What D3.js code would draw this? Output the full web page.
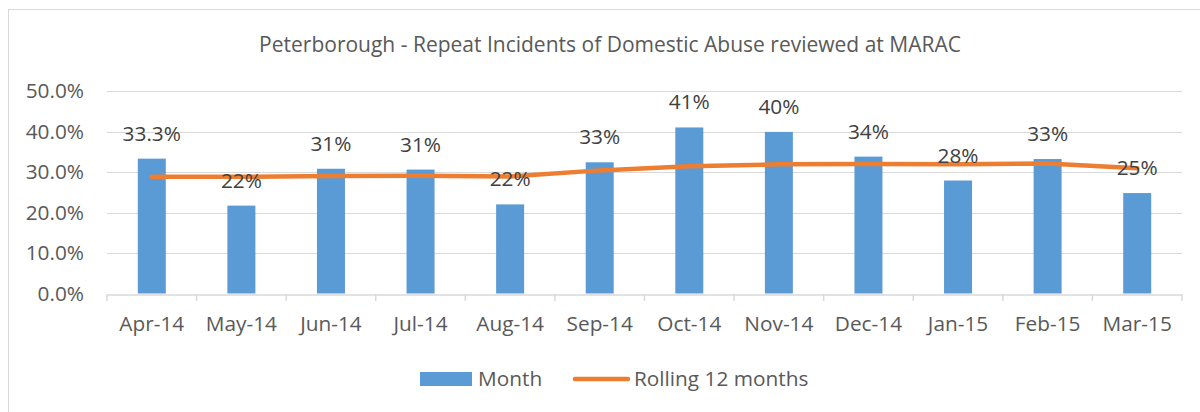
<!DOCTYPE html>
<html>
<head>
<meta charset="utf-8">
<script src="https://cdn.jsdelivr.net/npm/d3@7"></script>
<style>
	body { margin: 0; background: #fff; }
	svg { display: block; font-family: "Open Sans", sans-serif; }
</style>
</head>
<body>
<svg id="chart" width="1200" height="412"></svg>
<script>
const months = ["Apr-14", "May-14", "Jun-14", "Jul-14", "Aug-14", "Sep-14", "Oct-14", "Nov-14", "Dec-14", "Jan-15", "Feb-15", "Mar-15"];
const monthValues = [33.3, 21.7, 30.8, 30.6, 22.0, 32.4, 41.0, 39.9, 33.8, 27.9, 33.2, 24.8];
const monthLabels = ["33.3%", "22%", "31%", "31%", "22%", "33%", "41%", "40%", "34%", "28%", "33%", "25%"];
const rolling = [28.8, 28.8, 29.0, 29.1, 28.9, 30.4, 31.4, 31.9, 32.0, 31.9, 32.1, 30.9];
const yTicks = [0, 10, 20, 30, 40, 50];
const title = "Peterborough - Repeat Incidents of Domestic Abuse reviewed at MARAC";

const colors = {
	bar: "#5B9BD5",
	line: "#ED7D31",
	grid: "#D9D9D9",
	text: "#595959",
	label: "#404040",
};

const fontSize = 20.8;

const svg = d3.select("#chart");
const plot = { left: 107, right: 1182, top: 91, bottom: 293.5 };

// chart frame (only left and top edges visible)
svg.append("rect")
	.attr("x", 8.5)
	.attr("y", 9.5)
	.attr("width", 1220)
	.attr("height", 420)
	.attr("fill", "none")
	.attr("stroke", colors.grid);

svg.append("text")
	.attr("x", 610)
	.attr("y", 52)
	.attr("text-anchor", "middle")
	.attr("font-size", 21)
	.attr("fill", colors.text)
	.text(title);

const x = d3.scaleBand().domain(months).range([plot.left, plot.right]);
const y = d3.scaleLinear().domain([0, 50]).range([plot.bottom, plot.top]);
const barWidth = 28;

// gridlines
svg.append("g")
	.selectAll("line")
	.data(yTicks.slice(1))
	.join("line")
	.attr("x1", plot.left)
	.attr("x2", plot.right)
	.attr("y1", (d) => Math.round(y(d)) + 0.5)
	.attr("y2", (d) => Math.round(y(d)) + 0.5)
	.attr("stroke", colors.grid)
	.attr("stroke-width", 1.2);

// y axis
const yAxis = svg.append("g")
	.attr("transform", `translate(${plot.left},0)`)
	.call(d3.axisLeft(y).tickValues(yTicks).tickSize(0).tickPadding(23).tickFormat((d) => d.toFixed(1) + "%"));
yAxis.select(".domain").remove();
yAxis.selectAll("text")
	.attr("font-family", "Open Sans")
	.attr("font-size", fontSize)
	.attr("fill", colors.text);

// bars
svg.append("g")
	.selectAll("rect")
	.data(monthValues)
	.join("rect")
	.attr("x", (d, i) => x(months[i]) + x.bandwidth() / 2 - barWidth / 2)
	.attr("y", (d) => y(d))
	.attr("width", barWidth)
	.attr("height", (d) => y(0) - y(d))
	.attr("fill", colors.bar);

// x axis
const xAxis = svg.append("g")
	.attr("transform", `translate(0,${Math.round(plot.bottom) + 0.5})`)
	.call(d3.axisBottom(x).tickSize(0).tickPadding(22));
xAxis.select(".domain").attr("stroke", colors.grid).attr("stroke-width", 1.5);
xAxis.selectAll("text")
	.attr("font-family", "Open Sans")
	.attr("font-size", fontSize)
	.attr("fill", colors.text);

// category separators
svg.append("g")
	.selectAll("line")
	.data(months.concat(["end"]))
	.join("line")
	.attr("x1", (d, i) => (i < months.length ? x(d) : plot.right))
	.attr("x2", (d, i) => (i < months.length ? x(d) : plot.right))
	.attr("y1", Math.round(plot.bottom))
	.attr("y2", Math.round(plot.bottom) + 7)
	.attr("stroke", colors.grid)
	.attr("stroke-width", 1.5);

// rolling line
const line = d3.line()
	.x((d, i) => x(months[i]) + x.bandwidth() / 2)
	.y((d) => y(d));

svg.append("path")
	.datum(rolling)
	.attr("d", line)
	.attr("fill", "none")
	.attr("stroke", colors.line)
	.attr("stroke-width", 4.5)
	.attr("stroke-linejoin", "round")
	.attr("stroke-linecap", "round");

// data labels
svg.append("g")
	.selectAll("text")
	.data(monthValues)
	.join("text")
	.attr("x", (d, i) => x(months[i]) + x.bandwidth() / 2)
	.attr("y", (d) => y(d) - 18)
	.attr("text-anchor", "middle")
	.attr("font-size", fontSize)
	.attr("fill", colors.label)
	.text((d, i) => monthLabels[i]);

// legend
const legend = svg.append("g");
legend.append("rect")
	.attr("x", 420)
	.attr("y", 372)
	.attr("width", 52)
	.attr("height", 14)
	.attr("fill", colors.bar);
legend.append("text")
	.attr("x", 478)
	.attr("y", 386)
	.attr("font-size", fontSize)
	.attr("fill", colors.text)
	.text("Month");
legend.append("line")
	.attr("x1", 575)
	.attr("x2", 628)
	.attr("y1", 379)
	.attr("y2", 379)
	.attr("stroke", colors.line)
	.attr("stroke-width", 4.5)
	.attr("stroke-linecap", "round");
legend.append("text")
	.attr("x", 634)
	.attr("y", 386)
	.attr("font-size", fontSize)
	.attr("fill", colors.text)
	.text("Rolling 12 months");
</script>
</body>
</html>
